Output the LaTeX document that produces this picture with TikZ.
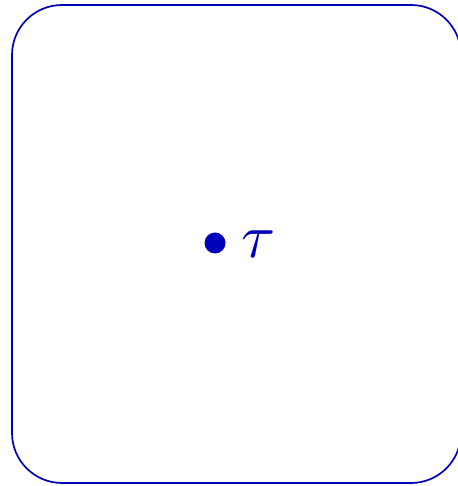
\documentclass[tikz,border=0pt]{standalone}
\usepackage{graphicx}
\definecolor{mainblue}{RGB}{0,0,185}
\begin{document}
\begin{tikzpicture}[x=1pt,y=1pt,
  frame/.style={draw=mainblue, line width=1.7pt, rounded corners=50pt},
  pointdot/.style={circle, fill=mainblue, inner sep=0pt, minimum size=21pt}]
\useasboundingbox (0,0) rectangle (457,486);
\draw[frame] (12,3) rectangle (461,481);
\node[pointdot] (p) at (215,243) {};
\node[text=mainblue, inner sep=0pt, anchor=center] (t) at (259,242) {\scalebox{6.2}{$\tau$}};
\end{tikzpicture}
\end{document}
